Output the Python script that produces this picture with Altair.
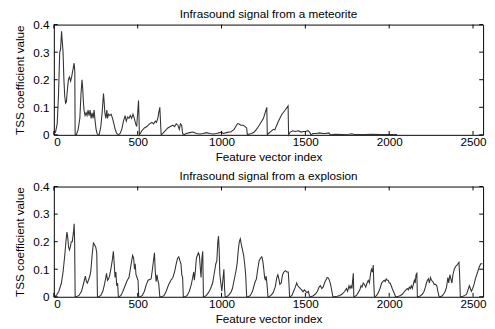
import altair as alt
import pandas as pd

# ---------------- data ----------------
meteor_idx = [0, 10, 20, 28, 35, 40, 46, 50, 55, 60, 65, 70, 75, 80, 87, 93, 100, 106, 112, 118, 121, 125, 127,
              134, 145, 155, 162, 168, 172, 176, 180, 186, 192, 198, 204, 210, 216, 222, 228, 234, 240, 246, 252, 258, 264,
              270, 280, 288, 296, 300, 304, 310, 316, 320, 326, 334, 342, 350, 358, 366, 375, 385,
              395, 405, 415, 425, 432, 440, 448, 456, 464, 472, 480, 488, 494, 500, 505, 508, 510,
              515, 525, 540, 555, 570, 585, 595, 605, 612, 620, 627, 632, 636, 640,
              650, 665, 680, 695, 710, 720, 730, 740, 748, 755, 762, 768, 775,
              790, 810, 830, 850, 870, 890, 910, 930, 950, 970, 990, 1000, 1010, 1030, 1045, 1055, 1065, 1075, 1085,
              1095, 1102, 1115, 1130, 1140, 1150, 1154,
              1165, 1180, 1195, 1208, 1220, 1235, 1250, 1260, 1270, 1273,
              1280, 1290, 1300, 1310, 1318, 1326, 1340, 1360, 1380, 1397, 1400,
              1410, 1425, 1440, 1459, 1475, 1490, 1505, 1516, 1525, 1534,
              1545, 1565, 1585, 1605, 1620, 1640, 1650, 1680, 1720, 1760, 1778, 1790, 1850, 1900, 1950, 2000, 2047]
meteor_val = [0.005, 0.01, 0.04, 0.15, 0.3, 0.31, 0.376, 0.34, 0.3, 0.2, 0.14, 0.115, 0.12, 0.16, 0.2, 0.21, 0.195, 0.21, 0.23, 0.25, 0.26, 0.23, 0.0,
              0.0, 0.02, 0.06, 0.15, 0.2, 0.17, 0.12, 0.09, 0.07, 0.08, 0.07, 0.09, 0.07, 0.09, 0.06, 0.08, 0.06, 0.09, 0.05, 0.02, 0.005, 0.0,
              0.0, 0.03, 0.08, 0.15, 0.12, 0.08, 0.06, 0.09, 0.06, 0.075, 0.07, 0.075, 0.06, 0.04, 0.02, 0.005, 0.0,
              0.005, 0.02, 0.05, 0.07, 0.05, 0.065, 0.06, 0.07, 0.06, 0.075, 0.06, 0.04, 0.03, 0.08, 0.125, 0.06, 0.0,
              0.005, 0.015, 0.025, 0.03, 0.04, 0.045, 0.04, 0.05, 0.045, 0.06, 0.085, 0.1, 0.05, 0.0,
              0.005, 0.015, 0.025, 0.03, 0.035, 0.03, 0.04, 0.035, 0.02, 0.04, 0.035, 0.005, 0.0,
              0.005, 0.008, 0.01, 0.005, 0.003, 0.005, 0.008, 0.005, 0.003, 0.005, 0.008, 0.01, 0.005, 0.008, 0.01, 0.01, 0.015, 0.02, 0.03,
              0.04, 0.04, 0.035, 0.035, 0.03, 0.025, 0.0,
              0.003, 0.005, 0.01, 0.02, 0.03, 0.045, 0.06, 0.08, 0.1, 0.0,
              0.005, 0.01, 0.015, 0.02, 0.018, 0.03, 0.05, 0.075, 0.09, 0.105, 0.0,
              0.01, 0.015, 0.012, 0.015, 0.01, 0.012, 0.013, 0.015, 0.01, 0.0,
              0.005, 0.005, 0.007, 0.005, 0.005, 0.007, 0.0, 0.002, 0.001, 0.002, 0.004, 0.001, 0.001, 0.002, 0.001, 0.001, 0.001]

explo_idx = [0, 15, 30, 45, 55, 65, 72, 78, 82, 88, 93, 98, 104, 110, 114, 118, 121, 124, 127,
             135, 150, 165, 178, 188, 194, 200, 206, 212, 220, 228, 236, 242, 250, 256, 260,
             268, 280, 292, 302, 310, 314, 320, 326, 332, 340, 348, 355, 360, 365, 370, 375, 380, 385,
             390, 400, 412, 425, 438, 448, 456, 464, 470, 476, 481, 485, 490, 496, 502, 506,
             516, 528, 540, 552, 562, 572, 580, 588, 594, 600, 605, 610, 615, 620, 626, 632,
             645, 658, 670, 685, 698, 710, 720, 730, 738, 745, 752, 758, 763, 768, 772,
             785, 795, 808, 820, 828, 834, 838, 845, 850, 856, 862, 868, 874, 878, 883, 888, 892,
             898, 910, 922, 935, 947, 958, 966, 972, 978, 982, 986, 990, 996, 1002, 1008, 1014, 1018, 1022,
             1030, 1042, 1055, 1065, 1075, 1085, 1093, 1100, 1106, 1112, 1118, 1125, 1132, 1138, 1144, 1150,
             1160, 1172, 1185, 1198, 1208, 1216, 1224, 1232, 1240, 1246, 1252, 1257, 1262, 1266, 1272, 1277,
             1282, 1295, 1308, 1320, 1330, 1336, 1342, 1348, 1356, 1364, 1372, 1380, 1390, 1398, 1402, 1406,
             1410, 1420, 1430, 1440, 1448, 1455, 1462, 1470, 1478, 1486, 1494, 1502, 1510, 1518, 1526,
             1530, 1545, 1560, 1572, 1582, 1590, 1598, 1606, 1614, 1622, 1630, 1638, 1646, 1652, 1658, 1664,
             1670, 1690, 1705, 1720, 1735, 1745, 1752, 1760, 1766, 1772, 1778, 1782, 1786, 1789,
             1792, 1805, 1815, 1825, 1832, 1838, 1845, 1852, 1860, 1868, 1875, 1882, 1888, 1894, 1900, 1905, 1908, 1912,
             1916, 1925, 1935, 1945, 1955, 1962, 1970, 1976, 1982, 1988, 1994, 2000, 2006, 2012, 2018, 2025, 2032, 2038,
             2042, 2055, 2068, 2080, 2092, 2100, 2108, 2114, 2120, 2126, 2132, 2138, 2144, 2150, 2155, 2160, 2165, 2168,
             2172, 2185, 2198, 2208, 2216, 2222, 2228, 2234, 2240, 2246, 2252, 2260, 2268, 2276, 2284, 2290, 2298,
             2302, 2315, 2325, 2334, 2342, 2350, 2355, 2362, 2368, 2374, 2380, 2388, 2396, 2404, 2410, 2416, 2420, 2424,
             2428, 2440, 2452, 2462, 2470, 2478, 2484, 2490, 2498, 2506, 2514, 2522, 2530, 2538, 2546, 2556]
explo_val = [0.0, 0.005, 0.02, 0.05, 0.09, 0.15, 0.2, 0.235, 0.22, 0.18, 0.17, 0.18, 0.2, 0.2, 0.22, 0.24, 0.265, 0.2, 0.0,
             0.0, 0.005, 0.02, 0.05, 0.075, 0.055, 0.05, 0.06, 0.07, 0.09, 0.15, 0.195, 0.19, 0.18, 0.16, 0.0,
             0.0, 0.005, 0.02, 0.045, 0.07, 0.085, 0.06, 0.065, 0.075, 0.1, 0.13, 0.165, 0.12, 0.07, 0.09, 0.04, 0.05, 0.0,
             0.0, 0.005, 0.02, 0.04, 0.06, 0.07, 0.1, 0.13, 0.15, 0.14, 0.1, 0.12, 0.08, 0.07, 0.06, 0.0,
             0.0, 0.005, 0.02, 0.045, 0.06, 0.063, 0.065, 0.1, 0.13, 0.16, 0.09, 0.055, 0.08, 0.06, 0.045, 0.0,
             0.0, 0.005, 0.02, 0.045, 0.06, 0.07, 0.09, 0.12, 0.14, 0.145, 0.13, 0.12, 0.08, 0.07, 0.0,
             0.0, 0.005, 0.02, 0.045, 0.07, 0.09, 0.06, 0.1, 0.14, 0.15, 0.16, 0.15, 0.1, 0.07, 0.14, 0.165, 0.0,
             0.0, 0.005, 0.015, 0.03, 0.05, 0.09, 0.12, 0.13, 0.2, 0.22, 0.17, 0.08, 0.05, 0.02, 0.06, 0.1, 0.03, 0.0,
             0.0, 0.005, 0.015, 0.03, 0.06, 0.09, 0.12, 0.17, 0.2, 0.21, 0.19, 0.17, 0.15, 0.12, 0.08, 0.0,
             0.0, 0.005, 0.02, 0.05, 0.065, 0.1, 0.13, 0.14, 0.145, 0.13, 0.1, 0.07, 0.06, 0.075, 0.04, 0.0,
             0.0, 0.005, 0.015, 0.035, 0.07, 0.08, 0.065, 0.045, 0.05, 0.08, 0.09, 0.095, 0.09, 0.09, 0.05, 0.0,
             0.0, 0.005, 0.02, 0.035, 0.05, 0.04, 0.035, 0.03, 0.025, 0.018, 0.025, 0.02, 0.015, 0.02, 0.0,
             0.0, 0.003, 0.01, 0.02, 0.035, 0.04, 0.03, 0.035, 0.05, 0.06, 0.07, 0.068, 0.055, 0.04, 0.02, 0.0,
             0.0, 0.002, 0.005, 0.01, 0.02, 0.03, 0.02, 0.04, 0.03, 0.04, 0.03, 0.06, 0.085, 0.0,
             0.0, 0.005, 0.015, 0.025, 0.04, 0.035, 0.05, 0.045, 0.035, 0.05, 0.06, 0.05, 0.08, 0.1, 0.09, 0.115, 0.05, 0.0,
             0.0, 0.005, 0.015, 0.03, 0.05, 0.055, 0.06, 0.055, 0.065, 0.06, 0.06, 0.05, 0.05, 0.04, 0.03, 0.02, 0.01, 0.0,
             0.0, 0.002, 0.005, 0.01, 0.02, 0.025, 0.03, 0.025, 0.035, 0.03, 0.04, 0.03, 0.045, 0.06, 0.05, 0.08, 0.085, 0.0,
             0.0, 0.003, 0.01, 0.02, 0.035, 0.05, 0.06, 0.065, 0.05, 0.07, 0.06, 0.055, 0.045, 0.045, 0.04, 0.02, 0.0,
             0.0, 0.003, 0.01, 0.02, 0.035, 0.07, 0.05, 0.08, 0.065, 0.05, 0.08, 0.1, 0.11, 0.115, 0.12, 0.125, 0.08, 0.0,
             0.0, 0.002, 0.005, 0.01, 0.025, 0.04, 0.03, 0.02, 0.03, 0.045, 0.065, 0.08, 0.095, 0.11, 0.12, 0.12]

x_ticks = [0, 500, 1000, 1500, 2000, 2500]
y_ticks = [0, 0.1, 0.2, 0.3, 0.4]
titles = ["Infrasound signal from a meteorite", "Infrasound signal from a explosion"]

# ---------------- chart ----------------
W, H = 440, 113
TICK = 4
FONT = "Liberation Sans"
LINE = "#333333"

xscale = alt.Scale(domain=[0, 2560], nice=False, zero=False)
yscale = alt.Scale(domain=[0, 0.4], nice=False)
xaxis = alt.Axis(values=x_ticks, title="Feature vector index", format="d")
yaxis = alt.Axis(values=y_ticks, title="TSS coefficient value", format=".1~f")

tick_x_df = pd.DataFrame({"i": x_ticks})
tick_y_df = pd.DataFrame({"v": y_ticks})


def panel(idx, vals, title):
    df = pd.DataFrame({"i": idx, "v": vals})
    line = alt.Chart(df).mark_line(color=LINE, strokeWidth=1.1).encode(
        x=alt.X("i:Q", scale=xscale, axis=xaxis),
        y=alt.Y("v:Q", scale=yscale, axis=yaxis),
    )
    tb = alt.Chart(tick_x_df).mark_rule(color="black", strokeWidth=1).encode(
        x=alt.X("i:Q", scale=xscale, axis=xaxis), y=alt.value(H), y2=alt.value(H - TICK))
    tt = alt.Chart(tick_x_df).mark_rule(color="black", strokeWidth=1).encode(
        x=alt.X("i:Q", scale=xscale, axis=xaxis), y=alt.value(0), y2=alt.value(TICK))
    tl = alt.Chart(tick_y_df).mark_rule(color="black", strokeWidth=1).encode(
        y=alt.Y("v:Q", scale=yscale, axis=yaxis), x=alt.value(0), x2=alt.value(TICK))
    tr = alt.Chart(tick_y_df).mark_rule(color="black", strokeWidth=1).encode(
        y=alt.Y("v:Q", scale=yscale, axis=yaxis), x=alt.value(W - TICK), x2=alt.value(W))
    return alt.layer(line, tb, tt, tl, tr).properties(
        width=W, height=H,
        title=alt.TitleParams(title, fontSize=12, font=FONT, fontWeight="normal",
                              color="black", offset=-2, anchor="middle"),
    )


chart = alt.vconcat(
    panel(meteor_idx, meteor_val, titles[0]),
    panel(explo_idx, explo_val, titles[1]),
    spacing=6,
).properties(padding={"left": 5, "top": -5, "right": 0, "bottom": 0}).configure_view(
    stroke="black", strokeWidth=1
).configure_axis(
    grid=False, domain=False, ticks=False,
    labelFont=FONT, labelFontSize=12, labelColor="black",
    titleFont=FONT, titleFontSize=12, titleFontWeight="normal", titleColor="black",
).configure_axisX(labelPadding=2, titlePadding=4).configure_axisY(labelPadding=5, titlePadding=6)

chart.save("out.html", embed_options={"renderer": "svg", "actions": False})
